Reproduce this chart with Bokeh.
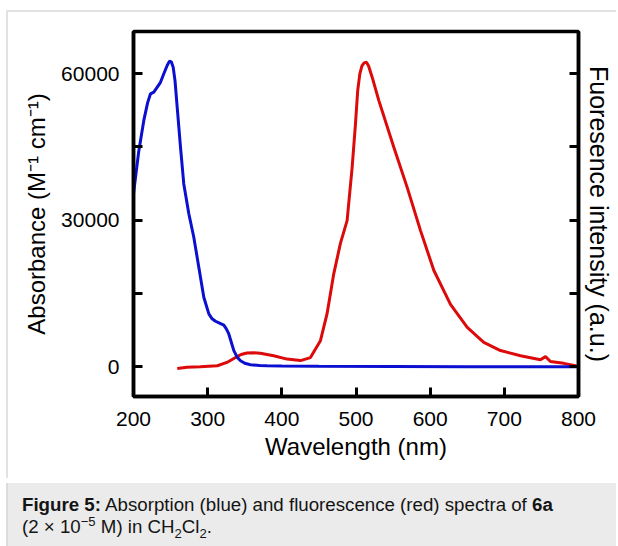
from bokeh.plotting import figure
from bokeh.models import Range1d, LinearAxis, FixedTicker, Div
from bokeh.layouts import column
from bokeh.embed import file_html
from bokeh.resources import INLINE

# ---------------- data ----------------
abs_wl = [200, 207, 213.9, 219, 222.9, 227.4, 232, 236.4, 241, 245.4, 248.5, 251, 253.5, 256,
          258.9, 263.4, 267.8, 274.6, 281.3, 288.1, 294.8, 301.6, 306, 310.6, 316, 321.8,
          325, 328.5, 335.3, 340, 344.3, 350, 357.7, 370, 380, 400, 450, 550, 650, 800]
abs_val = [35400, 44000, 50400, 54000, 55850, 56200, 57200, 58200, 60000, 61650, 62530, 62400,
           61300, 58500, 53100, 44900, 37400, 31300, 26500, 20300, 14200, 10800, 9800, 9300,
           8900, 8500, 7800, 6700, 3300, 1900, 1230, 700, 400, 250, 200, 150, 80, 30, 0, 0]

fl_wl = [259, 272, 290, 313, 326, 337.5, 345, 353, 362, 371, 389, 407, 425, 438.6, 452, 461,
         470, 479, 488, 494.8, 499.3, 502.3, 505.1, 508, 511, 514.1, 517, 521.8, 530.7, 551,
         569, 587, 605, 627.4, 650, 672.3, 694.8, 721.8, 748.7, 755.5, 762.2, 780, 796, 800]
fl_val = [-0.006, -0.002, 0.000, 0.003, 0.014, 0.030, 0.040, 0.045, 0.046, 0.044, 0.036, 0.025,
          0.020, 0.030, 0.085, 0.174, 0.305, 0.405, 0.480, 0.655, 0.798, 0.907, 0.961, 0.988,
          0.998, 1.000, 0.988, 0.951, 0.875, 0.721, 0.589, 0.447, 0.316, 0.205, 0.129, 0.080,
          0.053, 0.036, 0.023, 0.033, 0.017, 0.011, 0.003, 0.002]

x_ticks = [200, 300, 400, 500, 600, 700, 800]
y_ticks_labelled = [0, 30000, 60000]
y_ticks_plain = [15000, 45000]

X0, X1 = 200, 800
Y0, Y1 = -6100, 68600
FL_LEVEL = 62300   # absorbance-axis height at which fluorescence = 1 a.u.

BLUE = "#0a0fd0"
RED = "#dc0a0a"
FONT = "Liberation Sans"

W = 610
H_CHART = 468
H_CAP = 66

# ---------------- chart ----------------
p = figure(width=W, height=H_CHART, x_range=Range1d(X0, X1), y_range=Range1d(Y0, Y1),
           output_backend="svg", toolbar_location=None,
           min_border_left=125, min_border_right=40,
           min_border_top=19, min_border_bottom=84,
           background_fill_color="white", border_fill_color="white",
           styles={"border-top": "2px solid #e2e2e2", "border-left": "2px solid #e2e2e2",
                   "margin-top": "10px", "margin-left": "6px"})
p.extra_y_ranges = {"fl": Range1d(Y0 / FL_LEVEL, Y1 / FL_LEVEL)}
p.xgrid.visible = False
p.ygrid.visible = False
p.outline_line_color = "black"
p.outline_line_width = 3.5
p.outline_line_alpha = 1.0

p.line(fl_wl, fl_val, color=RED, line_width=3, y_range_name="fl")
p.line(abs_wl, abs_val, color=BLUE, line_width=3)


def style_axis(ax):
    ax.axis_line_color = "black"
    ax.axis_line_width = 3.5
    for kind in ("major", "minor"):
        setattr(ax, f"{kind}_tick_line_color", "black")
        setattr(ax, f"{kind}_tick_line_width", 3)
        setattr(ax, f"{kind}_tick_in", 9)
        setattr(ax, f"{kind}_tick_out", 0)
    ax.major_label_text_font = FONT
    ax.major_label_text_font_size = "21px"
    ax.major_label_text_color = "black"
    ax.axis_label_text_font = FONT
    ax.axis_label_text_font_size = "24px"
    ax.axis_label_text_font_style = "normal"
    ax.axis_label_text_color = "black"


xa = p.xaxis[0]
style_axis(xa)
xa.ticker = FixedTicker(ticks=x_ticks, minor_ticks=[])
xa.axis_label = "Wavelength (nm)"
xa.major_label_standoff = 15
xa.axis_label_standoff = 4

ya = p.yaxis[0]
style_axis(ya)
ya.ticker = FixedTicker(ticks=y_ticks_labelled, minor_ticks=y_ticks_plain)
ya.axis_label = "Absorbance (M\u207b\u00b9 cm\u207b\u00b9)"
ya.major_label_standoff = 14
ya.axis_label_standoff = 8

ra = LinearAxis(ticker=FixedTicker(ticks=[], minor_ticks=y_ticks_labelled + y_ticks_plain))
style_axis(ra)
ra.major_label_standoff = 0
ra.axis_label = "Fuoresence intensity (a.u.)"
ra.axis_label_text_font_size = "25px"
ra.axis_label_standoff = 6
p.add_layout(ra, "right")

# ---------------- caption ----------------
caption_html = (
    '<div style="padding: 11px 0 0 14px; font-family: \'Liberation Sans\', Arial, sans-serif; '
    'font-size: 18.7px; line-height: 22px; color: #141414;">'
    '<b>Figure 5:</b> Absorption (blue) and fluorescence (red) spectra of <b>6a</b><br>'
    '(2 \u00d7 10<sup style="font-size: 70%; line-height: 0;">\u22125</sup> M) in '
    'CH<sub style="font-size: 70%; line-height: 0;">2</sub>'
    'Cl<sub style="font-size: 70%; line-height: 0;">2</sub>.</div>'
)
cap = Div(text=caption_html, width=W, height=H_CAP,
          styles={"background-color": "#ebebeb", "border-left": "2px solid #dcdcdc",
                  "margin-left": "6px"})

layout = column(p, cap)
open("out.html", "w").write(file_html(layout, INLINE))
